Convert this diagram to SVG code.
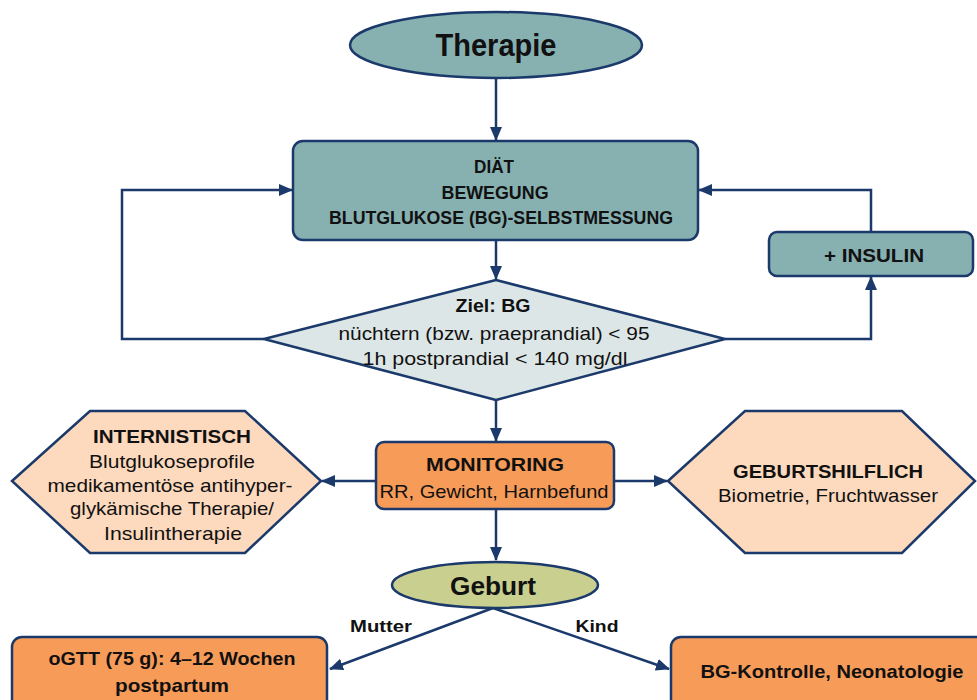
<svg xmlns="http://www.w3.org/2000/svg" width="977" height="700" viewBox="0 0 977 700">
<defs>
<marker id="ah" markerUnits="userSpaceOnUse" markerWidth="14" markerHeight="12" viewBox="0 0 14 12" refX="13" refY="6" orient="auto">
<path d="M0,0 L14,6 L0,12 Z" fill="#1b3a6b"/>
</marker>
<style>
.n{stroke:#1b3a6b;stroke-width:2.5}
.teal{fill:#87b0b1}
.pale{fill:#dde6e6}
.orange{fill:#f79b59}
.peach{fill:#fdd9bd}
.olive{fill:#c9cf8e}
.c{fill:none;stroke:#1b3a6b;stroke-width:2.5;marker-end:url(#ah)}
text{font-family:"Liberation Sans",Arial,sans-serif;fill:#111;text-anchor:middle;font-size:19px}
.b{font-weight:bold}
</style>
</defs>
<rect width="977" height="700" fill="#fff"/>
<g id="connectors">
<path class="c" d="M496,79 L496,140"/>
<path class="c" d="M496,240 L496,279"/>
<path class="c" d="M264,339 L122,339 L122,190 L292,190"/>
<path class="c" d="M725,339 L871,339 L871,277"/>
<path class="c" d="M871,232 L871,190 L699,190"/>
<path class="c" d="M496,400 L496,441"/>
<path class="c" d="M376,481 L322,481"/>
<path class="c" d="M614,481 L667,481"/>
<path class="c" d="M496,509 L496,560"/>
<path class="c" d="M493,608 L330,669"/>
<path class="c" d="M493,608 L669,669"/>
</g>
<g id="therapie">
<ellipse class="n teal" cx="496" cy="45" rx="146" ry="33"/>
<text class="b" x="496" y="56" textLength="121" lengthAdjust="spacingAndGlyphs" style="font-size:32px">Therapie</text>
</g>
<g id="basis">
<rect class="n teal" x="293" y="141" width="405" height="99" rx="10"/>
<text class="b" x="494" y="173" style="font-size:18px" textLength="40" lengthAdjust="spacingAndGlyphs">DIÄT</text>
<text class="b" x="495" y="199" style="font-size:18px" textLength="107" lengthAdjust="spacingAndGlyphs">BEWEGUNG</text>
<text class="b" x="501" y="224" style="font-size:18px" textLength="344" lengthAdjust="spacingAndGlyphs">BLUTGLUKOSE (BG)-SELBSTMESSUNG</text>
</g>
<g id="insulin">
<rect class="n teal" x="769" y="232" width="204" height="44" rx="8"/>
<text class="b" x="874" y="262" textLength="100" lengthAdjust="spacingAndGlyphs">+ INSULIN</text>
</g>
<g id="ziel">
<path class="n pale" d="M496,280 L725,339 L496,400 L264,339 Z" stroke-linejoin="round"/>
<text class="b" x="493" y="312" textLength="75" lengthAdjust="spacingAndGlyphs">Ziel: BG</text>
<text x="494" y="340" textLength="311" lengthAdjust="spacingAndGlyphs">nüchtern (bzw. praeprandial) &lt; 95</text>
<text x="495" y="365" textLength="265" lengthAdjust="spacingAndGlyphs">1h postprandial &lt; 140 mg/dl</text>
</g>
<g id="monitoring">
<rect class="n orange" x="376" y="442" width="238" height="67" rx="8"/>
<text class="b" x="495" y="471" textLength="138" lengthAdjust="spacingAndGlyphs">MONITORING</text>
<text x="494" y="498" textLength="229" lengthAdjust="spacingAndGlyphs">RR, Gewicht, Harnbefund</text>
</g>
<g id="internistisch">
<path class="n peach" d="M12,481 L90,411 L245,411 L321,481 L245,553 L90,553 Z"/>
<text class="b" x="172" y="443" textLength="158" lengthAdjust="spacingAndGlyphs">INTERNISTISCH</text>
<text x="172" y="468" textLength="166" lengthAdjust="spacingAndGlyphs">Blutglukoseprofile</text>
<text x="170" y="492" textLength="245" lengthAdjust="spacingAndGlyphs">medikamentöse antihyper-</text>
<text x="172" y="515" textLength="204" lengthAdjust="spacingAndGlyphs">glykämische Therapie/</text>
<text x="173" y="540" textLength="138" lengthAdjust="spacingAndGlyphs">Insulintherapie</text>
</g>
<g id="geburtshilflich">
<path class="n peach" d="M668,481 L745,411 L902,411 L975,481 L902,553 L745,553 Z"/>
<text class="b" x="828" y="478" textLength="190" lengthAdjust="spacingAndGlyphs">GEBURTSHILFLICH</text>
<text x="828" y="502" textLength="220" lengthAdjust="spacingAndGlyphs">Biometrie, Fruchtwasser</text>
</g>
<g id="geburt">
<ellipse class="n olive" cx="495" cy="585" rx="103" ry="23"/>
<text class="b" x="493" y="595" style="font-size:25px" textLength="86" lengthAdjust="spacingAndGlyphs">Geburt</text>
</g>
<g id="labels">
<text class="b" x="381" y="632" style="font-size:17px" textLength="62" lengthAdjust="spacingAndGlyphs">Mutter</text>
<text class="b" x="597" y="632" style="font-size:17px" textLength="43" lengthAdjust="spacingAndGlyphs">Kind</text>
</g>
<g id="ogtt">
<rect class="n orange" x="12" y="637" width="315" height="80" rx="10"/>
<text class="b" x="172" y="665" textLength="247" lengthAdjust="spacingAndGlyphs">oGTT (75 g): 4–12 Wochen</text>
<text class="b" x="172" y="692" textLength="114" lengthAdjust="spacingAndGlyphs">postpartum</text>
</g>
<g id="bgkontrolle">
<rect class="n orange" x="671" y="637" width="330" height="80" rx="10"/>
<text class="b" x="832" y="678" textLength="263" lengthAdjust="spacingAndGlyphs">BG-Kontrolle, Neonatologie</text>
</g>
</svg>
